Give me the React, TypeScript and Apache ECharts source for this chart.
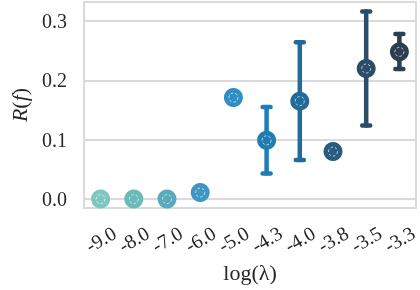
import React, { useEffect, useRef } from "react";
import * as echarts from "echarts";

const categories = ["-9.0", "-8.0", "-7.0", "-6.0", "-5.0", "-4.3", "-4.0", "-3.8", "-3.5", "-3.3"];
const values = [0.0, 0.0, 0.0, 0.011, 0.171, 0.099, 0.165, 0.08, 0.22, 0.248];
const lower: (number | null)[] = [null, null, null, null, null, 0.043, 0.066, null, 0.124, 0.219];
const upper: (number | null)[] = [null, null, null, null, null, 0.155, 0.264, null, 0.316, 0.278];
const colors = ["#80c6c0", "#6bbab9", "#59aabd", "#3d97c2", "#2f8fc5", "#1f7db5", "#236a9a", "#2a5c80", "#2b4d69", "#2c3e50"];
const yTicks = [0, 0.1, 0.2, 0.3];

const FONT = "Liberation Serif";

export default function App() {
  const ref = useRef<HTMLDivElement>(null);
  useEffect(() => {
    const chart = echarts.init(ref.current!, null, { renderer: "svg" });
    const errData = categories
      .map((_, i) => (lower[i] != null && upper[i] != null ? [i, lower[i], upper[i]] : null))
      .filter((d) => d != null);
    chart.setOption({
      animation: false,
      grid: {
        left: 72,
        right: 2,
        top: 2,
        bottom: 82,
        show: true,
        borderColor: "#dadada",
        borderWidth: 2,
        containLabel: false,
      },
      xAxis: {
        type: "category",
        data: categories,
        boundaryGap: true,
        axisLine: { show: false },
        axisTick: { show: false },
        splitLine: { show: false },
        axisLabel: {
          rotate: 30,
          align: "center",
          verticalAlign: "middle",
          margin: 31,
          fontFamily: FONT,
          fontSize: 20,
          color: "#262626",
          interval: 0,
        },
        name: "log(λ)",
        nameLocation: "middle",
        nameGap: 52,
        nameTextStyle: { fontFamily: FONT, fontSize: 22, color: "#262626" },
      },
      yAxis: {
        type: "value",
        min: -0.015,
        max: 0.332,
        splitNumber: 3,
        axisLine: { show: false },
        axisTick: { show: false },
        splitLine: { show: true, lineStyle: { color: "#dadada", width: 2 } },
        axisLabel: {
          margin: 17,
          fontFamily: FONT,
          fontSize: 20,
          color: "#262626",
          showMinLabel: false,
          showMaxLabel: false,
          formatter: (v: number) => {
            const t = yTicks.find((k) => Math.abs(k - v) < 1e-6);
            return t != null ? t.toFixed(1) : "";
          },
        },
        name: "{i|R}(​{i|f})",
        nameLocation: "middle",
        nameGap: 54,
        nameTextStyle: {
          fontFamily: FONT,
          fontSize: 22,
          color: "#262626",
          rich: { i: { fontFamily: FONT, fontSize: 22, fontStyle: "italic", color: "#262626" } },
        },
      },
      series: [
        {
          type: "custom",
          data: errData,
          z: 2,
          renderItem: (params: any, api: any) => {
            const idx = api.value(0);
            const lo = api.coord([idx, api.value(1)]);
            const hi = api.coord([idx, api.value(2)]);
            const c = colors[idx];
            const style = { stroke: c, lineWidth: 4.5, lineCap: "round" };
            const hw = 4;
            return {
              type: "group",
              children: [
                { type: "line", shape: { x1: lo[0], y1: lo[1], x2: hi[0], y2: hi[1] }, style },
                { type: "line", shape: { x1: lo[0] - hw, y1: lo[1], x2: lo[0] + hw, y2: lo[1] }, style },
                { type: "line", shape: { x1: hi[0] - hw, y1: hi[1], x2: hi[0] + hw, y2: hi[1] }, style },
              ],
            };
          },
        },
        {
          type: "scatter",
          z: 3,
          symbol: "circle",
          symbolSize: 19,
          itemStyle: { opacity: 1 },
          data: values.map((v, i) => ({ value: [i, v], itemStyle: { color: colors[i], opacity: 1 } })),
        },
        {
          type: "scatter",
          z: 4,
          symbol: "circle",
          symbolSize: 9,
          silent: true,
          itemStyle: { opacity: 1 },
          data: values.map((v, i) => ({
            value: [i, v],
            itemStyle: { color: "transparent", borderColor: "rgba(255,255,255,0.7)", borderWidth: 1, borderType: [2.5, 2], opacity: 1 },
          })),
        },
      ],
    });
    return () => chart.dispose();
  }, []);
  return <div ref={ref} style={{ position: "fixed", left: 0, top: 0, width: 420, height: 290 }} />;
}
